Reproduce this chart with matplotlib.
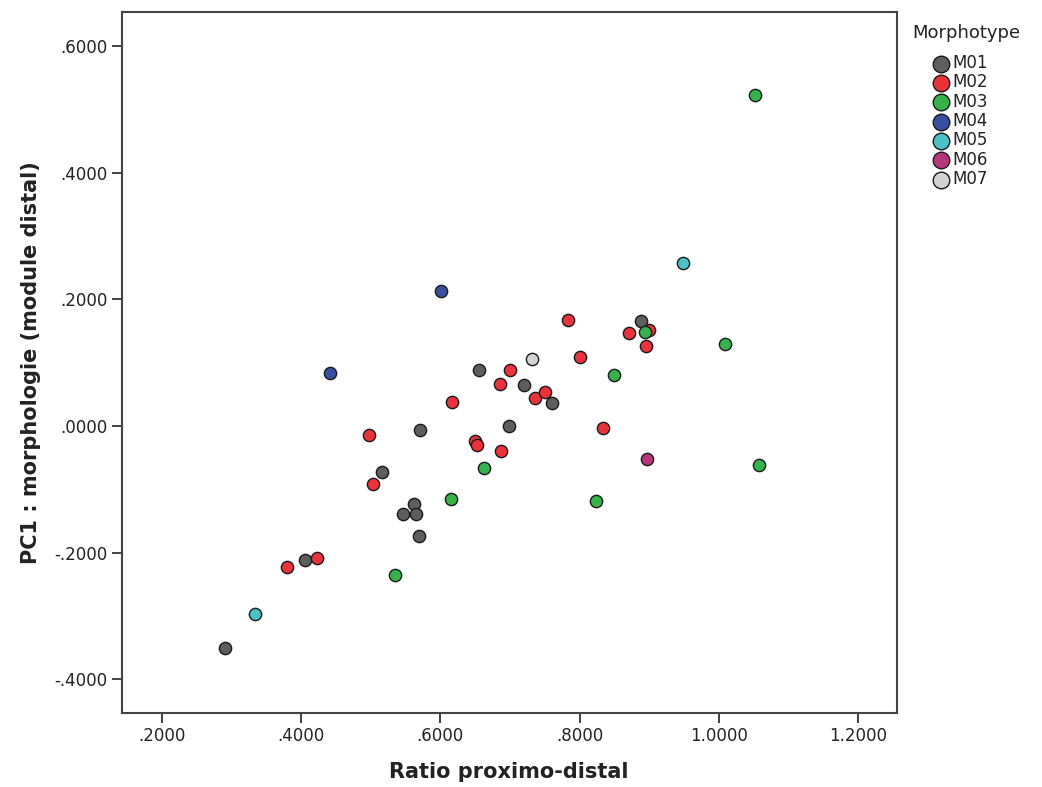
import matplotlib
matplotlib.use("Agg")
import matplotlib.pyplot as plt
from matplotlib.ticker import FuncFormatter, FixedLocator

groups = ["M01", "M02", "M03", "M04", "M05", "M06", "M07"]
colors = ["#5e5e5e", "#e8333b", "#35b34a", "#38509f", "#4dbfc6", "#b8357c", "#d3d3d3"]

m01_x = [0.291, 0.406, 0.516, 0.546, 0.563, 0.565, 0.569, 0.571, 0.656, 0.698, 0.720, 0.761, 0.888]
m01_y = [-0.351, -0.212, -0.072, -0.139, -0.123, -0.139, -0.173, -0.007, 0.089, 0.000, 0.064, 0.037, 0.165]

m02_x = [0.380, 0.423, 0.498, 0.504, 0.617, 0.650, 0.653, 0.686, 0.687, 0.700, 0.736, 0.751,
         0.783, 0.800, 0.833, 0.871, 0.900, 0.896]
m02_y = [-0.222, -0.208, -0.015, -0.092, 0.038, -0.024, -0.030, 0.067, -0.039, 0.088, 0.044, 0.053,
         0.167, 0.109, -0.004, 0.146, 0.152, 0.126]

m03_x = [0.535, 0.615, 0.663, 0.824, 0.850, 0.894, 1.009, 1.052, 1.057]
m03_y = [-0.235, -0.115, -0.066, -0.119, 0.080, 0.148, 0.130, 0.522, -0.062]

m04_x = [0.442, 0.601]
m04_y = [0.084, 0.213]

m05_x = [0.334, 0.949]
m05_y = [-0.297, 0.258]

m06_x = [0.897]
m06_y = [-0.052]

m07_x = [0.732]
m07_y = [0.105]

xs = [m01_x, m02_x, m03_x, m04_x, m05_x, m06_x, m07_x]
ys = [m01_y, m02_y, m03_y, m04_y, m05_y, m06_y, m07_y]

x_ticks = [0.2, 0.4, 0.6, 0.8, 1.0, 1.2]
y_ticks = [-0.4, -0.2, 0.0, 0.2, 0.4, 0.6]

fig = plt.figure(figsize=(10.42, 7.87), dpi=100)
ax = fig.add_axes([0.1168, 0.0936, 0.8606 - 0.1168, 0.9851 - 0.0936])

for g, c, x, y in zip(groups, colors, xs, ys):
    ax.scatter(x, y, s=78, c=c, edgecolors="#1a1a1a", linewidths=1.0, label=g, zorder=3)

ax.set_xlim(0.1427, 1.2553)
ax.set_ylim(-0.4537, 0.654)

def fmt(v, pos=None):
    s = f"{v:.4f}"
    if s.startswith("0."):
        s = s[1:]
    elif s.startswith("-0."):
        s = "-" + s[2:]
    return s

ax.xaxis.set_major_locator(FixedLocator(x_ticks))
ax.yaxis.set_major_locator(FixedLocator(y_ticks))
ax.xaxis.set_major_formatter(FuncFormatter(fmt))
ax.yaxis.set_major_formatter(FuncFormatter(fmt))

for sp in ax.spines.values():
    sp.set_color("#444444")
    sp.set_linewidth(1.5)

ax.tick_params(axis="both", direction="out", length=7, width=1.3, color="#333333",
               labelsize=12, labelcolor="#222222", pad=3)

ax.set_xlabel("Ratio proximo-distal", fontsize=15, fontweight="bold", color="#222222", labelpad=12)
ax.set_ylabel("PC1 : morphologie (module distal)", fontsize=15, fontweight="bold", color="#222222", labelpad=10)

fig.text(966 / 1042, 1 - 33 / 787, "Morphotype", ha="center", va="center",
         fontsize=13, color="#222222")

leg = ax.legend(loc="upper left", bbox_to_anchor=(930 / 1042, 1 - 54 / 787),
                bbox_transform=fig.transFigure, frameon=False, fontsize=12,
                labelspacing=0.08, handletextpad=0.05,
                markerscale=1.35, borderaxespad=0.0, borderpad=0.0, handlelength=1.3)
for t in leg.get_texts():
    t.set_color("#222222")

fig.savefig("out.png", dpi=100, facecolor="white")
